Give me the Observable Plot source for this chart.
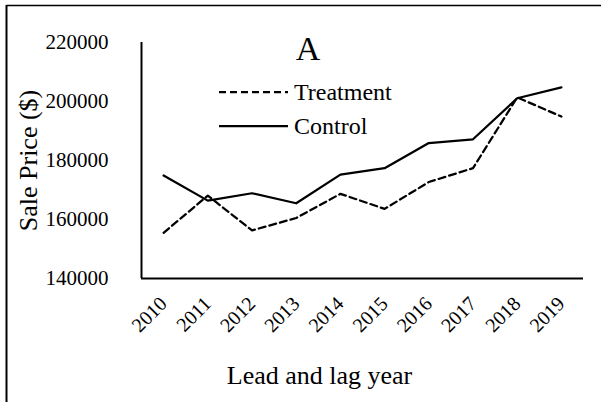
<!DOCTYPE html>
<html><head><meta charset="utf-8">
<script src="https://cdn.jsdelivr.net/npm/d3@7"></script>
<script src="https://cdn.jsdelivr.net/npm/@observablehq/plot@0.6"></script>
<style>
body{margin:0;background:#fff;}
#chart{position:relative;width:601px;height:402px;}
</style>
</head><body><div id="chart"></div>
<script>
const years = [2010, 2011, 2012, 2013, 2014, 2015, 2016, 2017, 2018, 2019];
const treatment = [155500, 168100, 156300, 160500, 168700, 163600, 172700, 177400, 201400, 194900];
const control = [174900, 166400, 168900, 165500, 175200, 177400, 185900, 187200, 201100, 204800];
const yTicks = [140000, 160000, 180000, 200000, 220000];
const seriesNames = ["Treatment", "Control"];
const panelLabel = "A";
const xTitle = "Lead and lag year";
const yTitle = "Sale Price ($)";

const tRows = years.map((y, i) => ({year: y, value: treatment[i]}));
const cRows = years.map((y, i) => ({year: y, value: control[i]}));
const font = "'Liberation Serif','Times New Roman',Times,serif";

const plot = Plot.plot({
  width: 601, height: 402,
  marginLeft: 141, marginRight: 18, marginTop: 42, marginBottom: 124,
  style: {fontFamily: font, background: "transparent", color: "#000", fontSize: "21px", overflow: "visible"},
  x: {domain: [2009.5, 2019.5]},
  y: {domain: [140000, 220000]},
  marks: [
    Plot.axisY({ticks: yTicks, tickSize: 0, tickPadding: 33, tickFormat: d3.format("d"), fontSize: 21, label: null}),
    Plot.axisX({ticks: years, tickSize: 0, tickPadding: 22, tickRotate: -45, tickFormat: d => String(d), fontSize: 20, label: null}),
    Plot.ruleX([2009.5], {stroke: "#000", strokeWidth: 2}),
    Plot.ruleY([140000], {stroke: "#000", strokeWidth: 2}),
    Plot.line(tRows, {x: "year", y: "value", stroke: "#000", strokeWidth: 2.25, strokeDasharray: "7,4"}),
    Plot.line(cRows, {x: "year", y: "value", stroke: "#000", strokeWidth: 2.25}),
    Plot.text([yTitle], {text: d => d, frameAnchor: "left", textAnchor: "middle", lineAnchor: "middle", rotate: -90, dx: -113, fontSize: 26, fill: "#000"}),
    Plot.text([xTitle], {text: d => d, frameAnchor: "bottom", textAnchor: "middle", lineAnchor: "middle", dx: -43, dy: 97, fontSize: 26, fill: "#000"}),
    Plot.text([panelLabel], {text: d => d, frameAnchor: "top", textAnchor: "middle", lineAnchor: "middle", dx: -54.5, dy: 7, fontSize: 34, fill: "#000"})
  ]
});

const svg = d3.select(plot);
// border lines (top and left)
svg.append("line").attr("x1", 6.5).attr("y1", 5.5).attr("x2", 601).attr("y2", 5.5)
  .attr("stroke", "#000").attr("stroke-width", 1.5);
svg.append("line").attr("x1", 6.5).attr("y1", 5).attr("x2", 6.5).attr("y2", 402)
  .attr("stroke", "#000").attr("stroke-width", 2);
// legend
const lg = svg.append("g").attr("font-family", font).attr("font-size", 24).attr("text-anchor", "start");
const legendItems = [
  {name: seriesNames[0], dash: "7,4", y: 92},
  {name: seriesNames[1], dash: null, y: 126}
];
legendItems.forEach(it => {
  const l = lg.append("line").attr("x1", 219).attr("x2", 288).attr("y1", it.y).attr("y2", it.y)
    .attr("stroke", "#000").attr("stroke-width", 2.25);
  if (it.dash) l.attr("stroke-dasharray", it.dash);
  lg.append("text").attr("x", 294).attr("y", it.y + 8).attr("fill", "#000").attr("text-anchor", "start").text(it.name);
});

document.getElementById("chart").appendChild(plot);
</script>
</body></html>
